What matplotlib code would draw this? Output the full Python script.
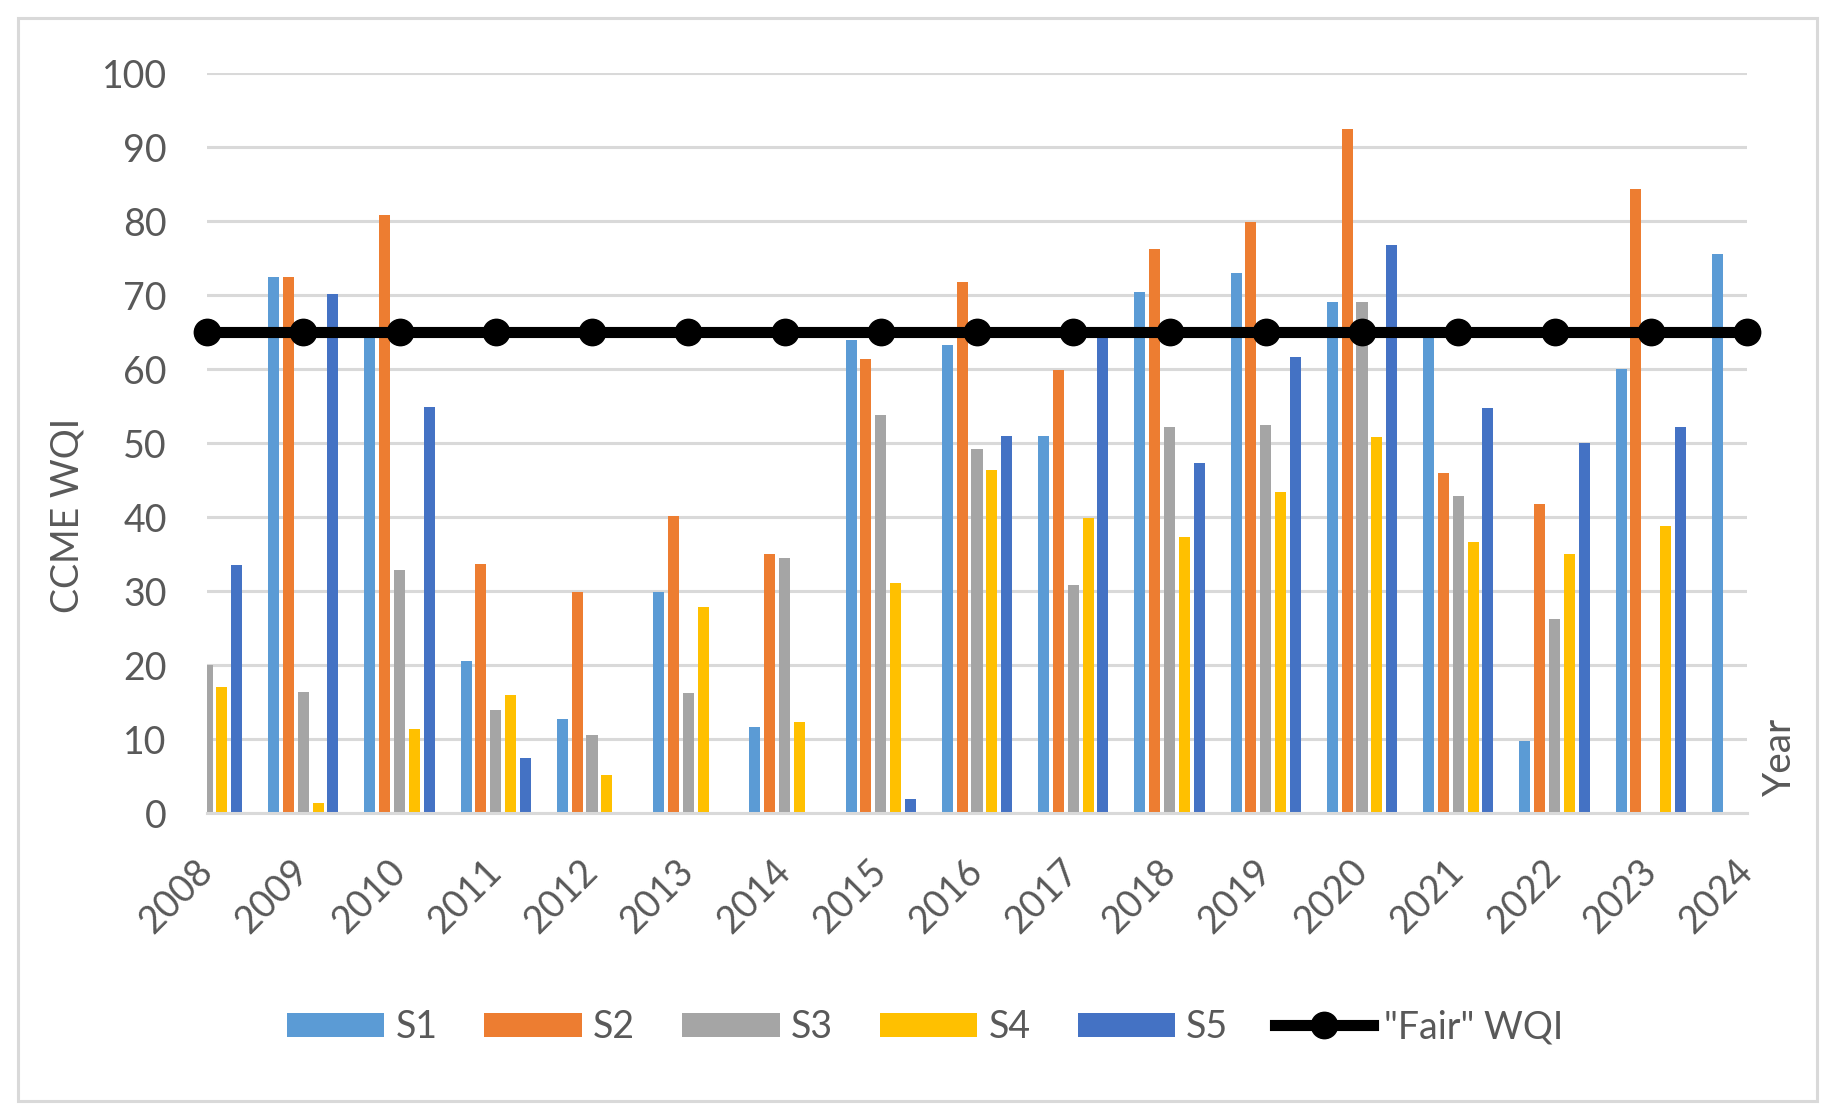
import numpy as np
import matplotlib
matplotlib.use("Agg")
import matplotlib.pyplot as plt
from matplotlib.patches import Patch, Rectangle
from matplotlib.lines import Line2D

plt.rcParams['font.family'] = ['Lato', 'DejaVu Sans']

nan = np.nan
years = list(range(2008, 2025))
series_names = ["S1", "S2", "S3", "S4", "S5"]
S1 = [nan, 72.5, 65.0, 20.5, 12.7, 29.9, 11.6, 63.9, 63.3, 50.9, 70.4, 73.0, 69.1, 64.5, 9.7, 60.0, 75.6]
S2 = [nan, 72.5, 80.8, 33.7, 29.9, 40.2, 35.0, 61.4, 71.7, 59.8, 76.2, 79.8, 92.4, 46.0, 41.8, 84.3, nan]
S3 = [20.0, 16.3, 32.8, 13.9, 10.6, 16.2, 34.4, 53.8, 49.2, 30.8, 52.2, 52.5, 69.0, 42.8, 26.2, nan, nan]
S4 = [17.0, 1.3, 11.3, 15.9, 5.2, 27.9, 12.3, 31.1, 46.3, 39.9, 37.3, 43.4, 50.8, 36.6, 35.0, 38.8, nan]
S5 = [33.5, 70.1, 54.9, 7.4, nan, nan, nan, 1.9, 50.9, 65.0, 47.3, 61.6, 76.8, 54.7, 50.0, 52.2, nan]
fair_wqi = [65] * len(years)
fair_label = '"Fair" WQI'
y_ticks = list(range(0, 101, 10))

colors = ["#5B9BD5", "#ED7D31", "#A5A5A5", "#FFC000", "#4472C4"]
text_color = "#595959"
grid_color = "#D9D9D9"

W, H = 1835, 1117
fig = plt.figure(figsize=(W / 100, H / 100), dpi=100)
fig.patch.set_facecolor("white")

# outer chart border
fig.add_artist(Rectangle((18 / W, 1 - 1101 / H), (1817 - 18) / W, (1101 - 18) / H,
                         transform=fig.transFigure, fill=False,
                         edgecolor=grid_color, linewidth=2.2))

ax = fig.add_axes([207 / W, 1 - 813 / H, (1747 - 207) / W, (813 - 73) / H])

x = np.array(years, dtype=float)
bar_w = 0.1155
step = 0.154
for i, (vals, c) in enumerate(zip([S1, S2, S3, S4, S5], colors)):
    ax.bar(x + (i - 2) * step, vals, width=bar_w, color=c, zorder=2, label=series_names[i])

ax.plot(x, fair_wqi, color="black", linewidth=8, marker="o", markersize=19,
        zorder=4, clip_on=False, label=fair_label)

ax.set_xlim(2008, 2024)
ax.set_ylim(0, 100)
ax.set_yticks(y_ticks)
ax.set_xticks(years)
ax.set_xticklabels([str(y) for y in years], rotation=45, ha="right", va="center",
                   rotation_mode="anchor")
ax.tick_params(axis="both", length=0, labelsize=27, colors=text_color)
ax.tick_params(axis="y", pad=29)
ax.tick_params(axis="x", pad=38)
ax.yaxis.grid(True, color=grid_color, linewidth=2.2, zorder=0)
ax.set_axisbelow(True)
for s in ["top", "right", "left"]:
    ax.spines[s].set_visible(False)
ax.spines["bottom"].set_color(grid_color)
ax.spines["bottom"].set_linewidth(2.2)

fig.text(68 / W, 1 - 515 / H, "CCME WQI", rotation=90, ha="center", va="center",
         fontsize=27, color=text_color)
fig.text(1780 / W, 1 - 757 / H, "Year", rotation=90, ha="center", va="center",
         fontsize=28, color=text_color)

handles = [Patch(facecolor=c, edgecolor="none") for c in colors]
handles.append(Line2D([0], [0], color="black", linewidth=8, marker="o", markersize=19))
labels = series_names + [fair_label]
leg = fig.legend(handles, labels, loc="center", bbox_to_anchor=(925 / W, 1 - 1027 / H),
                 ncol=6, frameon=False, fontsize=27, handlelength=2.6, handleheight=0.6,
                 handletextpad=0.3, columnspacing=1.25, labelcolor=text_color)

fig.savefig("out.png", dpi=100, facecolor="white")
